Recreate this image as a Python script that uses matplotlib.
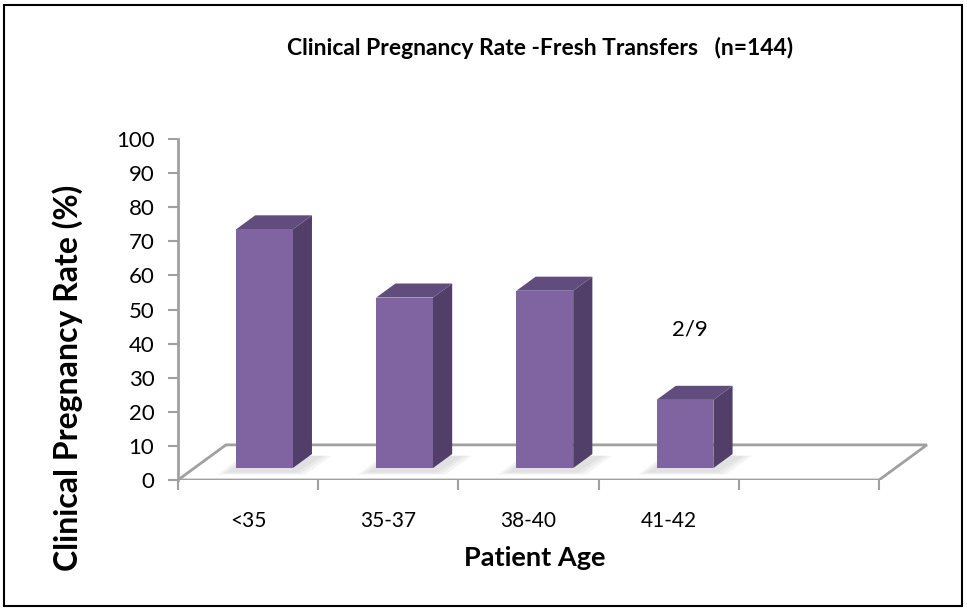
import matplotlib

matplotlib.use("Agg")
import matplotlib.pyplot as plt
from matplotlib.patches import Polygon, Rectangle

plt.rcParams["font.family"] = ["Lato", "DejaVu Sans"]

# data
categories = ["<35", "35-37", "38-40", "41-42", ""]
rates = [70, 50, 52, 20]
note_text = "2/9"
y_ticks = list(range(0, 101, 10))

FRONT = "#8064A2"
SIDE = "#513F69"
TOP = "#614C7E"
GRID = "#A0A0A0"

# 3d look: depth vector of the floor in data units
ddx, ddy = 0.342, 10.3
bar_w = 0.405
f0 = 0.34   # depth of bar front face (fraction of floor)
fd = 0.40   # bar depth (fraction of floor)

W, H = 967, 610
fig = plt.figure(figsize=(W / 100, H / 100), dpi=100)
ncat = len(categories)
px_cat = (879 - 178) / ncat
ax = fig.add_axes([178 / W, (H - 480) / H, 5.5 * px_cat / W, (480 - 139) / H])
ax.set_xlim(0, 5.5)
ax.set_ylim(0, 100)

# floor
floor = Polygon(
    [(0, 0), (ncat, 0), (ncat + ddx, ddy), (ddx, ddy)],
    closed=True, facecolor="white", edgecolor=GRID, lw=2, zorder=1,
)
ax.add_patch(floor)

for i, v in enumerate(rates):
    x0 = i + (1 - bar_w) / 2 + f0 * ddx
    y0 = f0 * ddy
    # soft shadow on the floor
    for g in [0.09, 0.06, 0.03]:
        ax.add_patch(Polygon(
            [(x0 - g - 0.04, y0 - 1.0 - g * 10), (x0 + bar_w + g, y0 - 1.0 - g * 10),
             (x0 + bar_w + g + fd * ddx + 0.05, y0 + fd * ddy - 0.5),
             (x0 - g + fd * ddx, y0 + fd * ddy - 0.5)],
            closed=True, facecolor="#707070", edgecolor="none", alpha=0.07, zorder=2,
        ))
    ax.add_patch(Rectangle((x0, y0), bar_w, v, facecolor=FRONT, edgecolor="none", zorder=4))
    ax.add_patch(Polygon(
        [(x0 + bar_w, y0), (x0 + bar_w + fd * ddx, y0 + fd * ddy),
         (x0 + bar_w + fd * ddx, y0 + v + fd * ddy), (x0 + bar_w, y0 + v)],
        closed=True, facecolor=SIDE, edgecolor="none", zorder=3,
    ))
    ax.add_patch(Polygon(
        [(x0, y0 + v), (x0 + bar_w, y0 + v),
         (x0 + bar_w + fd * ddx, y0 + v + fd * ddy), (x0 + fd * ddx, y0 + v + fd * ddy)],
        closed=True, facecolor=TOP, edgecolor="none", zorder=3,
    ))

ax.text(3.65, 44, note_text, ha="center", va="center", fontsize=16)

# axes styling
for s in ["top", "right", "bottom"]:
    ax.spines[s].set_visible(False)
ax.spines["left"].set_color(GRID)
ax.spines["left"].set_linewidth(2)
ax.set_yticks(y_ticks)
ax.tick_params(axis="y", colors=GRID, length=7, width=1.5, labelcolor="black",
               labelsize=16, pad=10)
ax.set_xticks(range(ncat + 1))
ax.set_xticklabels([])
ax.set_xticks([i + 0.5 for i in range(ncat)], minor=True)
ax.set_xticklabels(categories, minor=True)
ax.tick_params(axis="x", which="major", colors=GRID, length=7, width=1.5)
ax.tick_params(axis="x", which="minor", length=0, labelsize=15, pad=22)
ax.patch.set_visible(False)

ax.set_ylabel("Clinical Pregnancy Rate (%)", fontsize=23, fontweight="bold")
ax.yaxis.set_label_coords(-(178 - 68) / (5.5 * px_cat), (480 - 378) / (480 - 139))
ax.yaxis.label.set_verticalalignment("center")
ax.set_xlabel("Patient Age", fontsize=19.5, fontweight="bold")
ax.xaxis.set_label_coords((535 - 178) / (5.5 * px_cat), -(558 - 480) / (480 - 139))
ax.xaxis.label.set_verticalalignment("center")

fig.text(540 / W, 1 - 48 / H, "Clinical Pregnancy Rate -Fresh Transfers   (n=144)",
         ha="center", va="center", fontsize=16.5, fontweight="bold")

# outer frame
fig.add_artist(Rectangle((4 / W, 4 / H), 958 / W, 601 / H, transform=fig.transFigure,
                         fill=False, edgecolor="black", lw=1.5))

fig.savefig("out.png", dpi=100)
